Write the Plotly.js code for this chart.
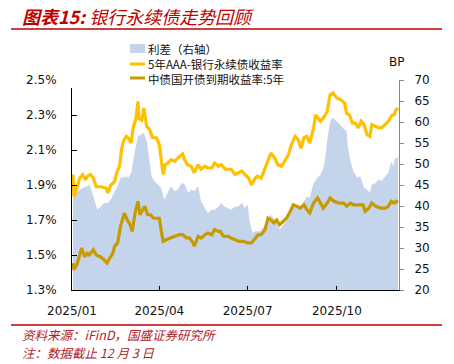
<!DOCTYPE html>
<html>
<head>
<meta charset="utf-8">
<script src="https://cdn.plot.ly/plotly-3.0.1.min.js"></script>
<style>
html,body{margin:0;padding:0;background:#fff;}
#chart{width:454px;height:364px;}
</style>
</head>
<body>
<div id="chart"></div>
<script>
// ---- Data ----
const seriesNames = ['利差（右轴）', '5年AAA-银行永续债收益率', '中债国开债到期收益率:5年'];

const perpDates = ['2025-01-02','2025-01-03','2025-01-05','2025-01-09','2025-01-12','2025-01-15','2025-01-17','2025-01-20','2025-01-23','2025-01-26','2025-01-31','2025-02-05','2025-02-07','2025-02-10','2025-02-14','2025-02-16','2025-02-19','2025-02-21','2025-02-23','2025-02-26','2025-02-28','2025-03-03','2025-03-05','2025-03-08','2025-03-10','2025-03-11','2025-03-14','2025-03-16','2025-03-19','2025-03-22','2025-03-25','2025-03-29','2025-04-01','2025-04-03','2025-04-05','2025-04-07','2025-04-10','2025-04-13','2025-04-17','2025-04-20','2025-04-25','2025-04-27','2025-04-30','2025-05-04','2025-05-07','2025-05-11','2025-05-14','2025-05-18','2025-05-21','2025-05-25','2025-05-28','2025-06-01','2025-06-04','2025-06-08','2025-06-14','2025-06-18','2025-06-21','2025-06-25','2025-06-28','2025-07-02','2025-07-05','2025-07-09','2025-07-11','2025-07-15','2025-07-19','2025-07-22','2025-07-25','2025-07-29','2025-08-01','2025-08-05','2025-08-08','2025-08-12','2025-08-15','2025-08-19','2025-08-22','2025-08-25','2025-08-28','2025-08-31','2025-09-03','2025-09-07','2025-09-09','2025-09-12','2025-09-14','2025-09-17','2025-09-21','2025-09-24','2025-09-27','2025-10-01','2025-10-05','2025-10-09','2025-10-11','2025-10-14','2025-10-17','2025-10-20','2025-10-23','2025-10-26','2025-10-29','2025-11-01','2025-11-04','2025-11-06','2025-11-10','2025-11-13','2025-11-16','2025-11-20','2025-11-23','2025-11-27','2025-11-29','2025-12-01','2025-12-03'];
const perpYield = [1.96,1.835,1.864,1.94,1.959,1.93,1.95,1.96,1.94,1.89,1.89,1.883,1.854,1.90,1.92,1.97,2.007,2.10,2.15,2.178,2.17,2.14,2.226,2.283,2.378,2.28,2.27,2.34,2.235,2.216,2.17,2.17,2.13,2.045,1.96,2.016,2.026,2.045,2.035,2.054,2.077,2.045,2.016,2.007,1.97,2.016,1.99,2.007,1.997,1.997,2.026,2.007,2.016,1.99,1.99,1.96,1.97,1.98,1.96,1.94,1.90,1.94,1.95,1.94,1.997,2.035,2.083,2.054,2.016,2.007,2.035,2.073,2.13,2.178,2.16,2.11,2.17,2.178,2.14,2.226,2.30,2.28,2.264,2.283,2.32,2.416,2.426,2.397,2.387,2.368,2.31,2.30,2.254,2.254,2.226,2.264,2.245,2.187,2.178,2.245,2.235,2.226,2.226,2.245,2.264,2.30,2.30,2.33,2.34];

const cdbDates = ['2025-01-02','2025-01-03','2025-01-06','2025-01-09','2025-01-11','2025-01-14','2025-01-17','2025-01-19','2025-01-23','2025-01-26','2025-01-30','2025-02-03','2025-02-06','2025-02-09','2025-02-12','2025-02-14','2025-02-17','2025-02-20','2025-02-22','2025-02-24','2025-02-27','2025-03-02','2025-03-04','2025-03-06','2025-03-07','2025-03-10','2025-03-12','2025-03-14','2025-03-17','2025-03-20','2025-03-23','2025-03-26','2025-04-01','2025-04-03','2025-04-05','2025-04-08','2025-04-12','2025-04-17','2025-04-22','2025-04-25','2025-04-29','2025-05-02','2025-05-06','2025-05-07','2025-05-11','2025-05-14','2025-05-18','2025-05-21','2025-05-25','2025-05-28','2025-06-01','2025-06-03','2025-06-06','2025-06-11','2025-06-14','2025-06-18','2025-06-22','2025-06-27','2025-07-01','2025-07-05','2025-07-09','2025-07-12','2025-07-15','2025-07-19','2025-07-22','2025-07-25','2025-07-28','2025-07-31','2025-08-03','2025-08-07','2025-08-10','2025-08-14','2025-08-17','2025-08-21','2025-08-24','2025-08-28','2025-08-31','2025-09-03','2025-09-07','2025-09-11','2025-09-14','2025-09-17','2025-09-21','2025-09-24','2025-09-28','2025-10-03','2025-10-08','2025-10-11','2025-10-15','2025-10-18','2025-10-23','2025-10-28','2025-10-30','2025-11-03','2025-11-06','2025-11-10','2025-11-15','2025-11-20','2025-11-23','2025-11-26','2025-11-29','2025-12-01','2025-12-03'];
const cdbYield = [1.454,1.416,1.445,1.50,1.54,1.49,1.51,1.50,1.53,1.50,1.49,1.473,1.454,1.483,1.51,1.55,1.569,1.664,1.71,1.74,1.70,1.673,1.635,1.71,1.74,1.807,1.73,1.75,1.778,1.73,1.73,1.71,1.71,1.635,1.578,1.587,1.597,1.607,1.616,1.616,1.597,1.597,1.569,1.55,1.607,1.597,1.616,1.626,1.616,1.645,1.635,1.635,1.607,1.607,1.597,1.587,1.578,1.578,1.569,1.569,1.597,1.616,1.616,1.645,1.71,1.70,1.683,1.70,1.673,1.693,1.71,1.75,1.787,1.778,1.768,1.787,1.759,1.74,1.797,1.826,1.797,1.768,1.797,1.826,1.807,1.797,1.797,1.778,1.797,1.787,1.787,1.787,1.75,1.768,1.797,1.778,1.768,1.768,1.778,1.807,1.797,1.807,1.80];

const spreadDates = ['2025-01-02','2025-01-04','2025-01-07','2025-01-12','2025-01-17','2025-01-19','2025-01-22','2025-01-24','2025-01-27','2025-01-31','2025-02-03','2025-02-07','2025-02-10','2025-02-14','2025-02-17','2025-02-20','2025-02-22','2025-02-26','2025-02-28','2025-03-03','2025-03-05','2025-03-08','2025-03-10','2025-03-13','2025-03-16','2025-03-19','2025-03-22','2025-03-24','2025-03-27','2025-03-31','2025-04-03','2025-04-06','2025-04-10','2025-04-13','2025-04-17','2025-04-20','2025-04-24','2025-04-27','2025-05-01','2025-05-04','2025-05-07','2025-05-11','2025-05-14','2025-05-18','2025-05-21','2025-05-25','2025-05-28','2025-06-01','2025-06-04','2025-06-07','2025-06-11','2025-06-14','2025-06-18','2025-06-21','2025-06-25','2025-06-28','2025-07-01','2025-07-03','2025-07-06','2025-07-09','2025-07-14','2025-07-17','2025-07-21','2025-07-24','2025-07-28','2025-07-31','2025-08-03','2025-08-07','2025-08-10','2025-08-14','2025-08-17','2025-08-21','2025-08-24','2025-08-28','2025-08-31','2025-09-03','2025-09-07','2025-09-11','2025-09-14','2025-09-17','2025-09-19','2025-09-21','2025-09-24','2025-09-27','2025-10-01','2025-10-04','2025-10-07','2025-10-11','2025-10-12','2025-10-15','2025-10-18','2025-10-22','2025-10-25','2025-10-29','2025-11-01','2025-11-04','2025-11-06','2025-11-10','2025-11-13','2025-11-16','2025-11-20','2025-11-23','2025-11-26','2025-11-28','2025-11-30','2025-12-02','2025-12-03'];
const spreadBP = [41.9,42.7,43.5,44.3,44.7,45.1,43.1,41.5,39.1,39.9,40.7,40.7,41.5,43.5,44.7,46.7,46.7,47.1,46.7,47.9,51.0,54.6,56.6,57.0,57.4,55.4,50.6,47.1,45.9,45.1,44.3,41.5,43.5,44.7,43.5,43.9,45.5,45.1,43.1,43.9,43.5,44.7,41.1,39.5,38.3,39.1,39.1,39.9,40.7,39.9,39.5,39.1,39.9,39.9,40.7,39.5,40.3,36.4,33.6,34.0,34.0,34.8,36.4,37.9,37.1,36.4,34.4,35.6,36.4,37.9,40.7,39.9,39.5,41.1,42.3,41.9,45.5,46.7,47.5,49.0,51.4,55.4,60.2,61.0,60.2,59.4,58.6,57.8,54.6,50.6,48.3,46.7,47.1,44.3,43.9,43.1,45.1,45.5,46.3,45.9,47.1,47.9,50.6,49.5,51.4,51.4,52.0];

const xTickVals = ['2025-01-01','2025-04-01','2025-07-01','2025-10-01'];
const xTickText = ['2025/01','2025/04','2025/07','2025/10'];
const titleText = '<b>图表15:</b> 银行永续债走势回顾';
const sourceText = '资料来源：iFinD，国盛证券研究所';
const noteText = '注：数据截止 12 月 3 日';

// ---- Layout helpers (pixel -> paper) ----
const W = 454, H = 364;
const L = 72, R = 399, T = 80, B = 290;
const px = x => (x - L) / (R - L);
const py = y => (B - y) / (B - T);

const colSpread = '#C3D4EB', colPerp = '#FFC000', colCdb = '#C79A00', red = '#C00000';
const cjk = '"Noto Sans CJK SC", "Noto Sans", sans-serif';
const num = '"DejaVu Sans", Verdana, sans-serif';

const traces = [
  {x: spreadDates, y: spreadBP, name: seriesNames[0], type: 'scatter', mode: 'lines',
   fill: 'tozeroy', fillcolor: colSpread, line: {width: 0, color: colSpread}, yaxis: 'y', showlegend: false},
  {x: perpDates, y: perpYield, name: seriesNames[1], type: 'scatter', mode: 'lines',
   line: {width: 3.2, color: colPerp}, yaxis: 'y2', showlegend: false},
  {x: cdbDates, y: cdbYield, name: seriesNames[2], type: 'scatter', mode: 'lines',
   line: {width: 3.2, color: colCdb}, yaxis: 'y2', showlegend: false}
];

const shapes = [
  // title underline & footer line
  {type: 'line', xref: 'paper', yref: 'paper', x0: px(11), x1: px(442), y0: py(29), y1: py(29), line: {color: red, width: 1.5}},
  {type: 'line', xref: 'paper', yref: 'paper', x0: px(11), x1: px(442), y0: py(325), y1: py(325), line: {color: red, width: 1.5}},
  // legend background (covers top of left axis like the original)
  {type: 'rect', xref: 'paper', yref: 'paper', x0: px(66), x1: px(320), y0: py(88), y1: py(40), fillcolor: '#fff', line: {width: 0}, layer: 'above'},
  // legend symbols
  {type: 'rect', xref: 'paper', yref: 'paper', x0: px(130), x1: px(145), y0: py(53), y1: py(44), fillcolor: colSpread, line: {width: 0}, layer: 'above'},
  {type: 'line', xref: 'paper', yref: 'paper', x0: px(130), x1: px(145), y0: py(64), y1: py(64), line: {color: colPerp, width: 3}, layer: 'above'},
  {type: 'line', xref: 'paper', yref: 'paper', x0: px(130), x1: px(145), y0: py(78), y1: py(78), line: {color: colCdb, width: 3}, layer: 'above'}
];

const legFont = {family: cjk, size: 11.5, color: '#111'};
const footFont = {family: cjk, size: 12.5, color: '#B0202A', style: 'italic'};
const annotations = [
  {text: titleText, xref: 'paper', yref: 'paper', x: px(21), y: py(16), xanchor: 'left', yanchor: 'middle', showarrow: false, borderpad: 0,
   font: {family: cjk, size: 18, color: red, style: 'italic'}},
  {text: seriesNames[0], xref: 'paper', yref: 'paper', x: px(147), y: py(49), xanchor: 'left', yanchor: 'middle', showarrow: false, borderpad: 0, font: legFont},
  {text: seriesNames[1], xref: 'paper', yref: 'paper', x: px(147), y: py(64), xanchor: 'left', yanchor: 'middle', showarrow: false, borderpad: 0, font: legFont},
  {text: seriesNames[2], xref: 'paper', yref: 'paper', x: px(147), y: py(79), xanchor: 'left', yanchor: 'middle', showarrow: false, borderpad: 0, font: legFont},
  {text: 'BP', xref: 'paper', yref: 'paper', x: px(396), y: py(62), xanchor: 'center', yanchor: 'middle', showarrow: false, borderpad: 0, font: {family: num, size: 12, color: '#111'}},
  {text: sourceText, xref: 'paper', yref: 'paper', x: px(21), y: py(334), xanchor: 'left', yanchor: 'middle', showarrow: false, borderpad: 0, font: footFont},
  {text: noteText, xref: 'paper', yref: 'paper', x: px(21), y: py(352.8), xanchor: 'left', yanchor: 'middle', showarrow: false, borderpad: 0, font: footFont}
];

const layout = {
  width: W, height: H,
  margin: {l: L, r: W - R, t: T, b: H - B, pad: 0},
  paper_bgcolor: '#fff', plot_bgcolor: '#fff',
  showlegend: false,
  xaxis: {
    type: 'date', range: ['2025-01-01', '2025-12-04'],
    tickmode: 'array', tickvals: xTickVals, ticktext: xTickText,
    ticks: 'inside', ticklen: 4, tickcolor: '#000',
    showline: true, linecolor: '#000', linewidth: 1, showgrid: false, zeroline: false,
    tickfont: {family: num, size: 12, color: '#111'}, ticklabelstandoff: 10
  },
  yaxis: {
    side: 'right', range: [20, 70], dtick: 5, tick0: 20,
    ticks: 'outside', ticklen: 4, tickcolor: '#888',
    showline: true, linecolor: '#888', linewidth: 1, showgrid: false, zeroline: false,
    tickfont: {family: num, size: 12, color: '#111'}, ticklabelstandoff: 8
  },
  yaxis2: {
    overlaying: 'y', side: 'left', range: [1.3, 2.5], dtick: 0.2, tick0: 1.3,
    tickformat: '.1f', ticksuffix: '%',
    ticks: 'inside', ticklen: 5, tickcolor: '#000',
    showline: true, linecolor: '#000', linewidth: 1, showgrid: false, zeroline: false,
    tickfont: {family: num, size: 12, color: '#111'}, ticklabelstandoff: 12
  },
  shapes: shapes,
  annotations: annotations
};

Plotly.newPlot('chart', traces, layout, {displayModeBar: false, staticPlot: true});
</script>
</body>
</html>
